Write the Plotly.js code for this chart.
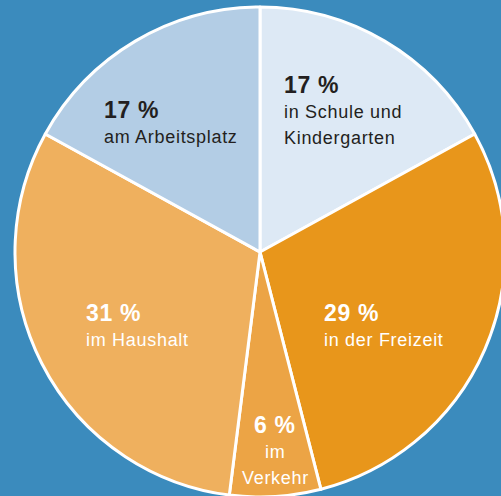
<!DOCTYPE html>
<html>
<head>
<meta charset="utf-8">
<script src="https://cdn.plot.ly/plotly-3.0.1.min.js"></script>
<style>
  html, body { margin: 0; padding: 0; background: #3b8bbd; overflow: hidden; }
  #chart { width: 520px; height: 520px; }
  .annotation-text { letter-spacing: 0.7px; }
</style>
</head>
<body>
<div id="chart"></div>
<script>
// Data
const categories = ["in Schule und Kindergarten", "in der Freizeit", "im Verkehr", "im Haushalt", "am Arbeitsplatz"];
const labelLines = [["in Schule und", "Kindergarten"], ["in der Freizeit"], ["im", "Verkehr"], ["im Haushalt"], ["am Arbeitsplatz"]];
const shares = [17, 29, 6, 31, 17];
const sliceColors = ["#dde9f5", "#e8961b", "#eca445", "#efb05e", "#b3cde5"];
const textColors = ["#231f20", "#ffffff", "#ffffff", "#ffffff", "#231f20"];

// label placement (pixel positions of first baseline, anchor)
const labelPos = [
  {x: 283, b: 92, anchor: "left"},
  {x: 323, b: 320, anchor: "left"},
  {x: 275, b: 432, anchor: "center"},
  {x: 85, b: 320, anchor: "left"},
  {x: 103, b: 117, anchor: "left"}
];

const M = {l: 15, r: 15, t: 7, b: 23};
const W = 520, H = 520;
const pw = W - M.l - M.r, ph = H - M.t - M.b;
const px = x => (x - M.l) / pw;
const py = y => 1 - (y - M.t) / ph;

const boldSize = 23, regSize = 18, lineGap = 25.5;
const font = "Liberation Sans, Arial, Helvetica, sans-serif";

const annotations = [];
shares.forEach((v, i) => {
  const p = labelPos[i];
  annotations.push({
    xref: "paper", yref: "paper", x: px(p.x), y: py(p.b - 0.905 * boldSize),
    xanchor: p.anchor, yanchor: "top", align: p.anchor, showarrow: false, borderpad: 0,
    text: "<b>" + v + " %</b>",
    font: {family: font, size: boldSize, color: textColors[i]}
  });
  labelLines[i].forEach((line, j) => {
    const base = p.b + lineGap * (j + 1);
    annotations.push({
      xref: "paper", yref: "paper", x: px(p.x), y: py(base - 0.905 * regSize),
      xanchor: p.anchor, yanchor: "top", align: p.anchor, showarrow: false, borderpad: 0,
      text: line,
      font: {family: font, size: regSize, color: textColors[i]}
    });
  });
});

const trace = {
  type: "pie",
  labels: categories,
  values: shares,
  sort: false,
  direction: "clockwise",
  rotation: 0,
  textinfo: "none",
  hoverinfo: "none",
  marker: {colors: sliceColors, line: {color: "#ffffff", width: 3}},
  domain: {x: [0, 1], y: [0, 1]}
};

const layout = {
  width: W, height: H,
  margin: M,
  paper_bgcolor: "#3b8bbd",
  plot_bgcolor: "#3b8bbd",
  showlegend: false,
  annotations: annotations
};

Plotly.newPlot("chart", [trace], layout, {displayModeBar: false, staticPlot: true});
</script>
</body>
</html>
